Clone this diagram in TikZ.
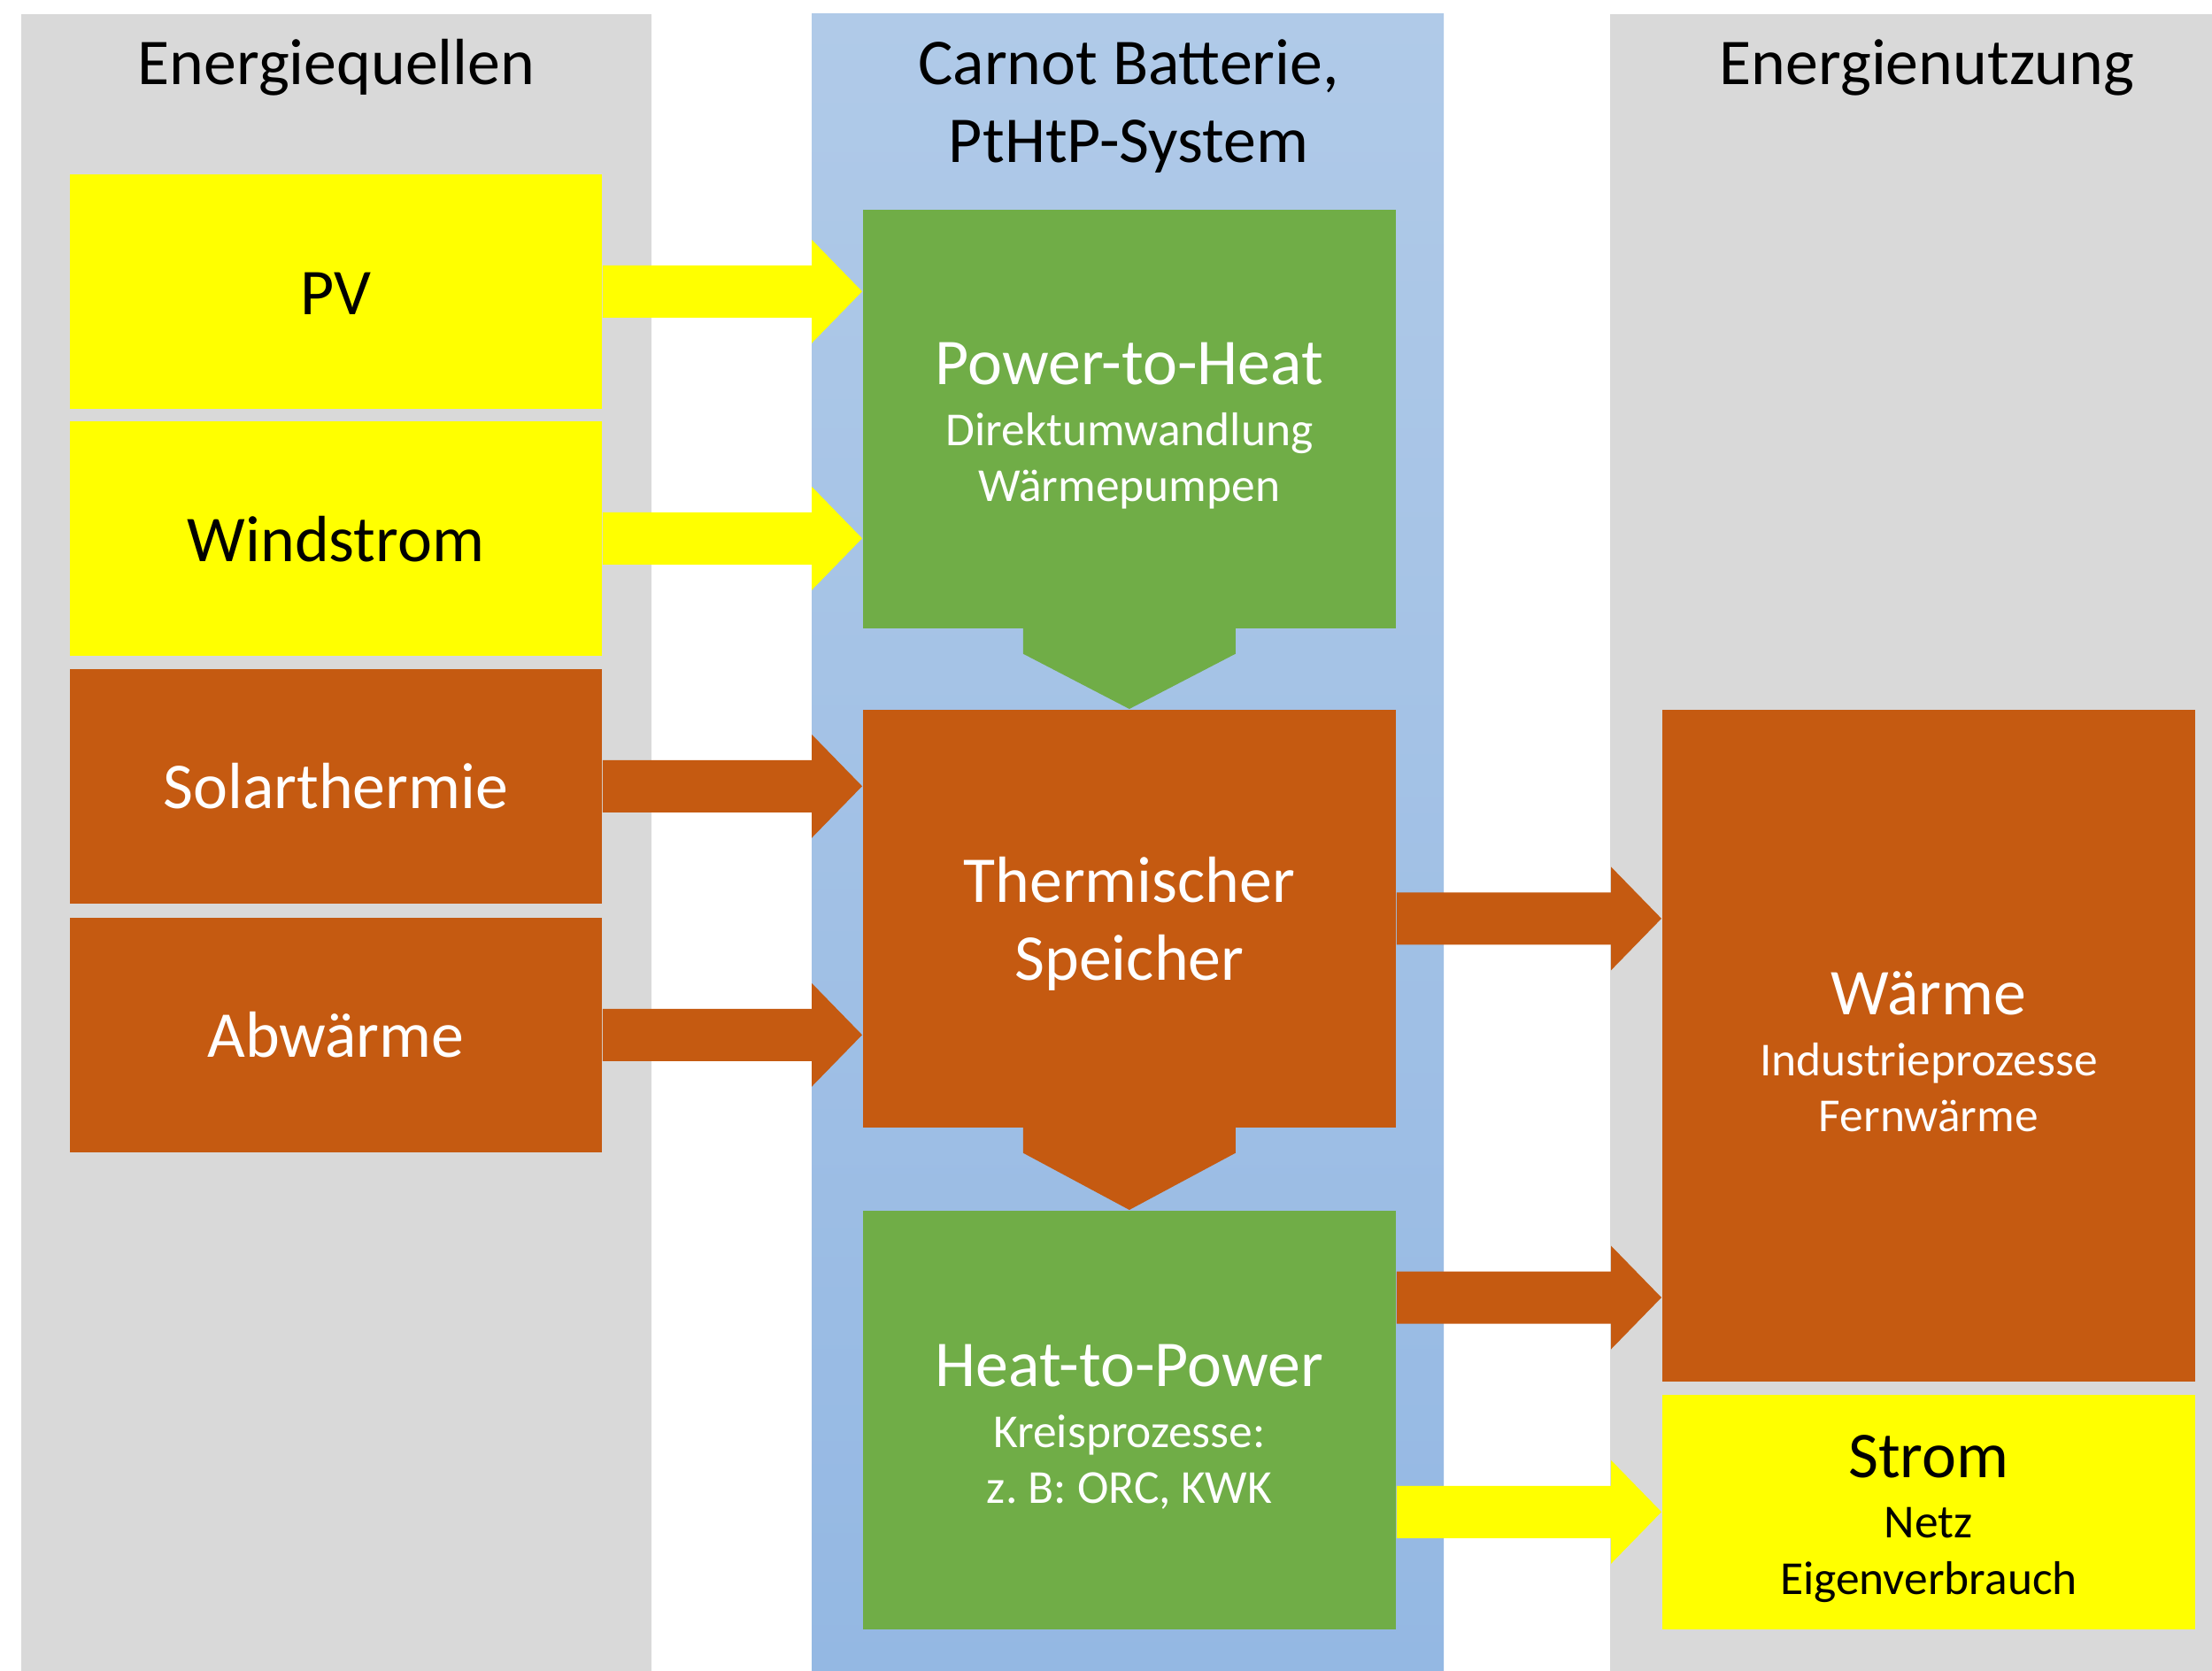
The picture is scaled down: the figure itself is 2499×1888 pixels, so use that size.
\documentclass[tikz,border=0pt]{standalone}
\usepackage{fontspec}
\setmainfont{Carlito}
\usetikzlibrary{calc}
\definecolor{colgray}{HTML}{D9D9D9}
\definecolor{colyel}{HTML}{FFFF00}
\definecolor{colora}{HTML}{C55A11}
\definecolor{colgrn}{HTML}{70AD47}
\definecolor{bluetop}{HTML}{B0CAE8}
\definecolor{bluebot}{HTML}{94B8E3}
\newcommand\bigf{\fontsize{21}{25}\selectfont}
\newcommand\smallf{\fontsize{15.2}{18}\selectfont}
\newcommand\topstrut{\rule{0pt}{18pt}}
% fat arrow: colour, start point, tip point
\newcommand\fatarrow[3]{%
  \fill[#1] ($(#2)+(0,-29.5)$) -- ($(#3)+(-57,-29.5)$) -- ($(#3)+(-57,-58.5)$) --
    (#3) -- ($(#3)+(-57,58.5)$) -- ($(#3)+(-57,29.5)$) -- ($(#2)+(0,29.5)$) -- cycle;}
\begin{document}
\begin{tikzpicture}[x=0.01cm,y=-0.01cm,
  blk/.style={anchor=north west, inner sep=0pt, align=center, font=\smallf},
  srcbox/.style={blk, minimum width=6.01cm, minimum height=2.65cm, font=\bigf},
  midbox/.style={blk, minimum width=6.02cm, minimum height=4.73cm},
  yelbox/.style={fill=colyel, text=black},
  orabox/.style={fill=colora, text=white},
  grnbox/.style={fill=colgrn, text=white},
  hdr/.style={anchor=base, inner sep=0pt, font=\bigf, text=black}]
\useasboundingbox (0,0) rectangle (2499,1888);
\fill[white] (0,0) rectangle (2499,1888);
% columns
\fill[colgray] (24,16) rectangle (736,1888);
\shade[top color=bluetop, bottom color=bluebot] (917,16) rectangle (1631,1888);
\fill[colgray] (1819,16) rectangle (2499,1888);
% headers
\node[hdr] (h1) at (380,96) {Energiequellen};
\node[hdr] (h2) at (1275,96) {Carnot Batterie,};
\node[hdr] (h3) at (1275,184) {PtHtP-System};
\node[hdr] (h4) at (2177,96) {Energienutzung};
% sources
\node[srcbox, yelbox] (pv) at (78,196) {\rule{0pt}{15pt}PV};
\node[srcbox, yelbox] (wind) at (78,475) {\rule{0pt}{15pt}Windstrom};
\node[srcbox, orabox] (solar) at (78,755) {Solarthermie};
\node[srcbox, orabox] (abw) at (78,1036) {Abwärme};
% middle
\node[midbox, grnbox] (p2h) at (974,236)
  {{\bigf\topstrut Power-to-Heat}\\[1.5pt]Direktumwandlung\\Wärmepumpen};
\node[midbox, orabox, minimum height=4.72cm, font=\bigf] (ts) at (974,801)
  {\topstrut Thermischer\\Speicher};
\node[midbox, grnbox] (h2p) at (974,1367)
  {{\bigf\topstrut Heat-to-Power}\\[1.5pt]Kreisprozesse:\\z.\ B: ORC, KWK};
% uses
\node[blk, orabox, minimum width=6.02cm, minimum height=7.59cm] (w) at (1877,801)
  {{\bigf\topstrut Wärme}\\[1.5pt]Industrieprozesse\\Fernwärme};
\node[blk, yelbox, minimum width=6.02cm, minimum height=2.65cm] (strom) at (1877,1575)
  {{\bigf\topstrut Strom}\\[1.5pt]Netz\\Eigenverbrauch};
% chevrons
\fill[colgrn] ($(p2h.south)+(-120,-1)$) -- ($(p2h.south)+(-120,28)$) -- (ts.north)
  -- ($(p2h.south)+(120,28)$) -- ($(p2h.south)+(120,-1)$) -- cycle;
\fill[colora] ($(ts.south)+(-120,-1)$) -- ($(ts.south)+(-120,28)$) -- (h2p.north)
  -- ($(ts.south)+(120,28)$) -- ($(ts.south)+(120,-1)$) -- cycle;
% arrows
\coordinate (t1) at (pv.east -| p2h.west);
\coordinate (t2) at (wind.east -| p2h.west);
\coordinate (t3) at (solar.east -| ts.west);
\coordinate (t4) at (abw.east -| ts.west);
\coordinate (t5) at (ts.east -| w.west);
\coordinate (s6) at ($(h2p.north east)+(0,99)$);
\coordinate (t6) at (s6 -| w.west);
\coordinate (s7) at (strom.west -| h2p.east);
\fatarrow{colyel}{pv.east}{t1}
\fatarrow{colyel}{wind.east}{t2}
\fatarrow{colora}{solar.east}{t3}
\fatarrow{colora}{abw.east}{t4}
\fatarrow{colora}{ts.east}{t5}
\fatarrow{colora}{s6}{t6}
\fatarrow{colyel}{s7}{strom.west}
\end{tikzpicture}
\end{document}
